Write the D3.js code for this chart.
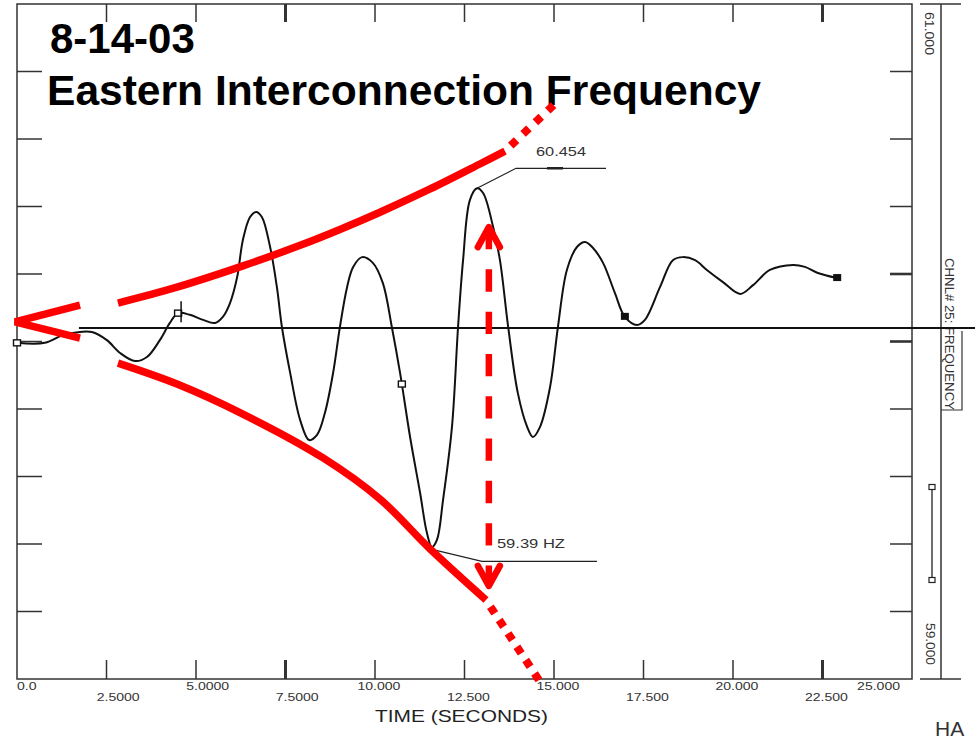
<!DOCTYPE html>
<html><head><meta charset="utf-8">
<script src="https://cdn.jsdelivr.net/npm/d3@7"></script>
<style>body{margin:0;background:#fff}svg{display:block;font-family:"Liberation Sans",Arial,sans-serif}</style>
</head><body><svg id="c" width="975" height="741"></svg>
<script>
// ---------- data ----------
const titleDate = "8-14-03";
const titleText = "Eastern Interconnection Frequency";
const xTickValues = [0, 2.5, 5, 7.5, 10, 12.5, 15, 17.5, 20, 22.5, 25];
const xTickLabels = ["0.0", "2.5000", "5.0000", "7.5000", "10.000", "12.500", "15.000", "17.500", "20.000", "22.500", "25.000"];
const yTickValues = [59.0, 59.2, 59.4, 59.6, 59.8, 60.0, 60.2, 60.4, 60.6, 60.8, 61.0];
const yTopLabel = "61.000";
const yBottomLabel = "59.000";
const xAxisTitle = "TIME (SECONDS)";
const channelLabel = "CHNL# 25: FREQUENCY";

const curveTime = [0,0.78,1.28,1.76,2.09,2.51,2.88,3.30,3.63,3.99,4.27,4.50,4.83,5.20,5.53,5.75,5.95,6.15,6.31,6.51,6.68,6.84,7.07,7.26,7.40,7.63,7.91,8.16,8.38,8.60,8.83,9.02,9.22,9.39,9.64,9.94,10.22,10.47,10.70,10.98,11.26,11.45,11.59,11.73,11.90,12.15,12.32,12.46,12.65,12.85,13.02,13.30,13.49,13.72,13.99,14.25,14.41,14.61,14.89,15.11,15.36,15.64,15.87,16.09,16.37,16.70,16.98,17.32,17.54,17.96,18.32,18.60,18.94,19.27,19.72,20.20,20.56,21.03,21.68,22.01,22.37,22.91];
const curveFreq = [59.996,59.996,60.019,60.028,60.028,60.004,59.966,59.942,59.954,60.004,60.055,60.084,60.079,60.064,60.055,60.073,60.114,60.191,60.301,60.369,60.384,60.369,60.280,60.161,60.043,59.907,59.767,59.708,59.723,59.788,59.907,60.043,60.161,60.221,60.250,60.233,60.173,60.043,59.907,59.717,59.551,59.433,59.391,59.412,59.530,59.747,60.043,60.241,60.419,60.454,60.440,60.339,60.241,60.043,59.847,59.747,59.717,59.747,59.865,60.043,60.212,60.280,60.295,60.277,60.233,60.144,60.073,60.049,60.064,60.161,60.241,60.250,60.241,60.212,60.176,60.141,60.167,60.212,60.227,60.221,60.203,60.188];

const markerTime = [0, 4.5, 10.75, 16.98, 22.91];
const markerFreq = [59.996, 60.084, 59.874, 60.073, 60.188];
const markerFilled = [false, false, false, true, true];

const refLineFreq = 60.04;
const refLineTime = [1.73, 26.8];

const peakTime = 12.85, peakFreq = 60.454, peakLabel = "60.454";
const troughTime = 11.59, troughFreq = 59.39, troughLabel = "59.39 HZ";

// red hand-drawn annotations (time, frequency)
const chevronTime = [1.76, -0.056, 1.76];
const chevronFreq = [60.108, 60.058, 60.010];
const envUpperTime = [2.82, 4.47, 6.31, 7.91, 9.02, 10.14, 11.54, 12.93, 13.63];
const envUpperFreq = [60.114, 60.161, 60.224, 60.285, 60.332, 60.383, 60.452, 60.526, 60.564];
const envUpperDotTime = [13.63, 15.17];
const envUpperDotFreq = [60.564, 60.719];
const envLowerTime = [2.82, 4.47, 6.31, 8.55, 10.14, 11.54, 13.10];
const envLowerFreq = [59.936, 59.874, 59.785, 59.655, 59.533, 59.385, 59.234];
const envLowerDotTime = [13.10, 14.69];
const envLowerDotFreq = [59.234, 58.979];
const arrowTime = 13.18;
const arrowFreq = [60.345, 59.270];

// ---------- layout ----------
const svg = d3.select("#c");
const L = 17, R = 912, T = 4, B = 679;
const x = d3.scaleLinear().domain([0, 25]).range([L, R]);
const y = d3.scaleLinear().domain([59, 61]).range([B, T]);
const AX = "#333";
const RED = "#ff0000";

// frame
svg.append("rect").attr("x", L).attr("y", T).attr("width", R - L).attr("height", B - T)
  .attr("fill", "none").attr("stroke", AX).attr("stroke-width", 1.5);

// x ticks (top & bottom)
const thickX = [7.5, 22.5];
xTickValues.filter(v => v > 0 && v < 25).forEach(v => {
  const w = thickX.includes(v) ? 3 : 1.5;
  svg.append("line").attr("x1", x(v)).attr("x2", x(v)).attr("y1", T).attr("y2", T + 18).attr("stroke", AX).attr("stroke-width", w);
  svg.append("line").attr("x1", x(v)).attr("x2", x(v)).attr("y1", B).attr("y2", B - 19).attr("stroke", AX).attr("stroke-width", w);
});
// y ticks (left & right)
const thickY = [60.0, 60.2];
yTickValues.filter(v => v > 59 && v < 61).forEach(v => {
  svg.append("line").attr("x1", L).attr("x2", L + 25).attr("y1", y(v)).attr("y2", y(v)).attr("stroke", AX).attr("stroke-width", 1.5);
  svg.append("line").attr("x1", R - 22).attr("x2", R).attr("y1", y(v)).attr("y2", y(v)).attr("stroke", AX)
    .attr("stroke-width", thickY.some(t => Math.abs(t - v) < 1e-6) ? 2.6 : 1.5);
});

// x tick labels, staggered, decimal point aligned with tick
const fs = 11.5, stretch = 1.22;
const dW = 0.556 * fs * stretch, pW = 0.278 * fs * stretch;
xTickValues.forEach((v, i) => {
  const lab = xTickLabels[i];
  const parts = lab.split(".");
  const w = (lab.length - 1) * dW + pW;
  let px = x(v) - (parts[0].length * dW + pW / 2);
  px = Math.max(L, Math.min(px, 900 - w));
  const row = i % 2 === 0 ? 690 : 701;
  svg.append("text").attr("x", px).attr("y", row).attr("font-size", fs).attr("fill", "#333")
    .attr("textLength", w).attr("lengthAdjust", "spacingAndGlyphs").text(lab);
});
svg.append("text").attr("x", 375).attr("y", 722).attr("font-size", 16.5).attr("fill", "#222")
  .attr("textLength", 173).attr("lengthAdjust", "spacingAndGlyphs").text(xAxisTitle);

// right-hand scale panel
const RX = 941;
svg.append("line").attr("x1", RX).attr("x2", RX).attr("y1", y(61)).attr("y2", y(59)).attr("stroke", AX).attr("stroke-width", 1.5);
svg.append("line").attr("x1", 920).attr("x2", 961).attr("y1", y(61)).attr("y2", y(61)).attr("stroke", AX).attr("stroke-width", 1.5);
svg.append("line").attr("x1", 920).attr("x2", 961).attr("y1", y(59)).attr("y2", y(59)).attr("stroke", AX).attr("stroke-width", 1.5);
function vtext(tx, ty, str, size, len) {
  svg.append("text").attr("transform", `translate(${tx},${ty}) rotate(90)`).attr("font-size", size).attr("fill", "#333")
    .attr("textLength", len).attr("lengthAdjust", "spacingAndGlyphs").text(str);
}
vtext(925, 12, yTopLabel, 12, 43);
vtext(926, 623, yBottomLabel, 12, 42);
vtext(945, 258, channelLabel, 13, 152);
svg.append("path").attr("d", `M${RX},410H962V${y(refLineFreq) + 3}`).attr("fill", "none").attr("stroke", AX).attr("stroke-width", 1.2);
// legend sample
svg.append("line").attr("x1", 932).attr("x2", 932).attr("y1", 487).attr("y2", 580).attr("stroke", "#222").attr("stroke-width", 1.3);
[487, 580].forEach(yy => svg.append("rect").attr("x", 929).attr("y", yy - 2.5).attr("width", 6).attr("height", 5)
  .attr("fill", "#fff").attr("stroke", "#222").attr("stroke-width", 1.2));

// reference line
svg.append("line").attr("x1", x(refLineTime[0])).attr("x2", x(refLineTime[1]))
  .attr("y1", y(refLineFreq)).attr("y2", y(refLineFreq)).attr("stroke", "#111").attr("stroke-width", 2);

// frequency curve
const pts = curveTime.map((t, i) => [x(t), y(curveFreq[i])]);
svg.append("path").attr("d", d3.line().curve(d3.curveCatmullRom.alpha(0.5))(pts))
  .attr("fill", "none").attr("stroke", "#111").attr("stroke-width", 2);

// markers
markerTime.forEach((t, i) => {
  const mx = x(t), my = y(markerFreq[i]);
  if (markerFilled[i]) {
    svg.append("rect").attr("x", mx - 4).attr("y", my - 4).attr("width", 8).attr("height", 7).attr("fill", "#111");
  } else {
    svg.append("rect").attr("x", mx - 3.5).attr("y", my - 3).attr("width", 7).attr("height", 6)
      .attr("fill", "#fff").attr("stroke", "#111").attr("stroke-width", 1.4);
  }
});
svg.append("line").attr("x1", x(markerTime[1]) + 3).attr("x2", x(markerTime[1]) + 3)
  .attr("y1", y(markerFreq[1]) - 12).attr("y2", y(markerFreq[1]) + 9).attr("stroke", "#111").attr("stroke-width", 1.5);

// leader lines and value labels
const pX = x(peakTime), pY = y(peakFreq);
svg.append("path").attr("d", `M${pX},${pY}L${pX + 39},${pY - 20}H${pX + 129}`).attr("fill", "none").attr("stroke", "#222").attr("stroke-width", 1.2);
svg.append("line").attr("x1", pX + 70).attr("x2", pX + 86).attr("y1", pY - 20).attr("y2", pY - 20).attr("stroke", "#222").attr("stroke-width", 2.5);
svg.append("text").attr("x", pX + 59).attr("y", pY - 32).attr("font-size", 13.5).attr("fill", "#333")
  .attr("textLength", 50).attr("lengthAdjust", "spacingAndGlyphs").text(peakLabel);
const tX = x(troughTime), tY = y(troughFreq);
svg.append("path").attr("d", `M${tX},${tY + 2}L${tX + 50},${tY + 14}H${tX + 165}`).attr("fill", "none").attr("stroke", "#222").attr("stroke-width", 1.2);
svg.append("text").attr("x", tX + 65).attr("y", tY + 1).attr("font-size", 13.5).attr("fill", "#333")
  .attr("textLength", 68).attr("lengthAdjust", "spacingAndGlyphs").text(troughLabel);

// title
svg.append("text").attr("x", 50).attr("y", 53).attr("font-size", 42).attr("font-weight", "bold").attr("fill", "#000").text(titleDate);
svg.append("text").attr("x", 47).attr("y", 105).attr("font-size", 42).attr("font-weight", "bold").attr("fill", "#000")
  .attr("textLength", 714).attr("lengthAdjust", "spacingAndGlyphs").text(titleText);

// HA (cut-off text at the bottom right)
svg.append("text").attr("x", 935).attr("y", 736).attr("font-size", 21).attr("fill", "#333").text("HA");

// red annotations
const ln = d3.line().curve(d3.curveCatmullRom.alpha(0.5));
const toPts = (ts, fs2) => ts.map((t, i) => [x(t), y(fs2[i])]);
svg.append("path").attr("d", d3.line()(toPts(chevronTime, chevronFreq))).attr("fill", "none")
  .attr("stroke", RED).attr("stroke-width", 7.5).attr("stroke-linejoin", "miter");
svg.append("path").attr("d", ln(toPts(envUpperTime, envUpperFreq))).attr("fill", "none").attr("stroke", RED).attr("stroke-width", 7.5);
svg.append("path").attr("d", ln(toPts(envLowerTime, envLowerFreq))).attr("fill", "none").attr("stroke", RED).attr("stroke-width", 7.5);
svg.append("path").attr("d", d3.line()(toPts(envUpperDotTime, envUpperDotFreq))).attr("fill", "none").attr("stroke", RED)
  .attr("stroke-width", 8).attr("stroke-dasharray", "8,9").attr("stroke-dashoffset", 9);
svg.append("path").attr("d", d3.line()(toPts(envLowerDotTime, envLowerDotFreq))).attr("fill", "none").attr("stroke", RED)
  .attr("stroke-width", 8).attr("stroke-dasharray", "8,8").attr("stroke-dashoffset", 8);
// dashed double arrow
const aX = x(arrowTime), aTop = y(arrowFreq[0]), aBot = y(arrowFreq[1]);
svg.append("line").attr("x1", aX).attr("x2", aX).attr("y1", aTop + 2).attr("y2", aBot - 2)
  .attr("stroke", RED).attr("stroke-width", 6.5).attr("stroke-dasharray", "22.3,20");
svg.append("path").attr("d", `M${aX - 11},${aTop + 22}L${aX},${aTop + 2}L${aX + 11},${aTop + 22}`).attr("fill", "none")
  .attr("stroke", RED).attr("stroke-width", 6.5).attr("stroke-linecap", "round").attr("stroke-linejoin", "round");
svg.append("path").attr("d", `M${aX - 11},${aBot - 22}L${aX},${aBot - 2}L${aX + 11},${aBot - 22}`).attr("fill", "none")
  .attr("stroke", RED).attr("stroke-width", 6.5).attr("stroke-linecap", "round").attr("stroke-linejoin", "round");
</script>
</body></html>
